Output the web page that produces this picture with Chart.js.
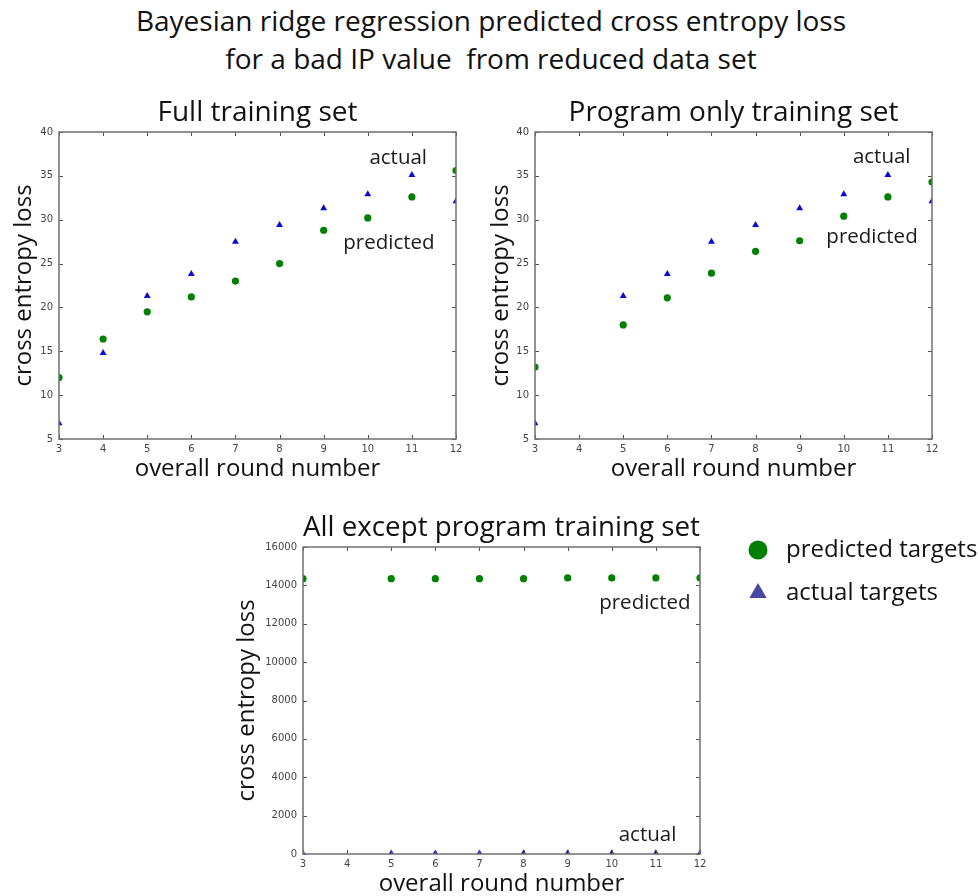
<!DOCTYPE html>
<html>
<head>
<meta charset="UTF-8">
<title>Bayesian ridge regression predicted cross entropy loss</title>
<script src="https://cdn.jsdelivr.net/npm/chart.js@4.4.1/dist/chart.umd.min.js"></script>
<style>
  body { margin: 0; background: #fff; overflow: hidden; width: 978px; height: 896px; position: relative; }
  #mainTitle { position: absolute; left: 2px; top: 1px; width: 978px; text-align: center;
               font-family: 'Open Sans'; font-size: 28px; line-height: 38px; color: #111; white-space: pre; }
  canvas { position: absolute; }
</style>
</head>
<body>
<div id="mainTitle">Bayesian ridge regression predicted cross entropy loss
for a bad IP value  from reduced data set</div>
<canvas id="fullChart" width="472" height="400" style="left:0px;top:88px"></canvas>
<canvas id="programChart" width="472" height="400" style="left:476px;top:88px"></canvas>
<canvas id="exceptChart" width="756" height="400" style="left:222px;top:503px"></canvas>
<script>
// overall round number on the x axis
const rounds = [3, 4, 5, 6, 7, 8, 9, 10, 11, 12];

// cross entropy loss, one value per round (null = no point)
const predFull      = [12.0, 16.4, 19.5, 21.2, 23.0, 25.0, 28.8, 30.2, 32.6, 35.6];
const actualFull    = [6.8, 14.8, 21.3, 23.8, 27.5, 29.4, 31.3, 32.9, 35.1, 32.1];
const predProgram   = [13.2, null, 18.0, 21.1, 23.9, 26.4, 27.6, 30.4, 32.6, 34.3];
const actualProgram = [6.8, null, 21.3, 23.8, 27.5, 29.4, 31.3, 32.9, 35.1, 32.1];
const predExcept    = [14350, null, 14350, 14350, 14350, 14350, 14390, 14390, 14390, 14390];
const actualExcept  = [6.8, null, 21.3, 23.8, 27.5, 29.4, 31.3, 32.9, 35.1, 32.1];

// tick labels
const roundTicks = [3, 4, 5, 6, 7, 8, 9, 10, 11, 12];
const lossTicks = [5, 10, 15, 20, 25, 30, 35, 40];
const bigLossTicks = [0, 2000, 4000, 6000, 8000, 10000, 12000, 14000, 16000];

// text notes inside the plots: [text, round, loss]
const notesFull    = [['actual', 10.69, 37.0], ['predicted', 10.48, 27.35]];
const notesProgram = [['actual', 10.86, 37.15], ['predicted', 10.64, 28.0]];
const notesExcept  = [['predicted', 10.75, 13080], ['actual', 10.81, 990]];

const green = '#007f00';
const blue = '#0a0ad0';
const textFont = 'Open Sans';

function toPoints(vals) {
  return rounds.map((r, i) => ({x: r, y: vals[i]})).filter(p => p.y !== null);
}

// matplotlib-like frame with inward ticks, plus the text notes
function framePlugin(notes) {
  return {
    id: 'frame',
    afterDatasetsDraw(chart) {
      const {ctx, chartArea: a, scales: {x, y}} = chart;
      ctx.save();
      ctx.strokeStyle = '#555';
      ctx.lineWidth = 1;
      ctx.beginPath();
      x.ticks.forEach(t => {
        const px = Math.round(x.getPixelForValue(t.value)) + 0.5;
        ctx.moveTo(px, a.bottom); ctx.lineTo(px, a.bottom - 4);
        ctx.moveTo(px, a.top); ctx.lineTo(px, a.top + 4);
      });
      y.ticks.forEach(t => {
        const py = Math.round(y.getPixelForValue(t.value)) + 0.5;
        ctx.moveTo(a.left, py); ctx.lineTo(a.left + 4, py);
        ctx.moveTo(a.right, py); ctx.lineTo(a.right - 4, py);
      });
      ctx.stroke();
      ctx.strokeStyle = '#707070';
      ctx.lineWidth = 1.5;
      ctx.strokeRect(a.left, a.top, a.width, a.height);
      ctx.font = '20.5px "' + textFont + '"';
      ctx.fillStyle = '#1a1a1a';
      ctx.textAlign = 'center';
      ctx.textBaseline = 'middle';
      notes.forEach(([txt, vx, vy]) => ctx.fillText(txt, x.getPixelForValue(vx), y.getPixelForValue(vy)));
      ctx.restore();
    }
  };
}

// legend drawn to the right of the bottom plot
const sideLegend = {
  id: 'sideLegend',
  afterDraw(chart) {
    const {ctx, chartArea: a} = chart;
    ctx.save();
    chart.data.datasets.forEach((ds, i) => {
      const cy = a.top + 3 + i * 43;
      ctx.fillStyle = ds.legendColor;
      Chart.helpers.drawPoint(ctx, {pointStyle: ds.pointStyle, radius: ds.legendRadius, rotation: 0, borderWidth: 0}, a.right + 58, cy);
      ctx.fillStyle = '#111';
      ctx.font = '24px "' + textFont + '"';
      ctx.textAlign = 'left';
      ctx.textBaseline = 'middle';
      ctx.fillText(ds.label, a.right + 86, cy);
    });
    ctx.restore();
  }
};

function lossChart(id, o) {
  const tickFont = {family: 'DejaVu Sans', size: 10};
  return new Chart(document.getElementById(id), {
    type: 'scatter',
    data: {
      datasets: [
        {label: 'predicted targets', data: toPoints(o.pred), pointStyle: 'circle', pointRadius: 3.6,
         backgroundColor: green, borderWidth: 0, clip: 0, legendColor: green, legendRadius: 9.5},
        {label: 'actual targets', data: toPoints(o.actual), pointStyle: 'triangle', pointRadius: 4,
         backgroundColor: blue, borderWidth: 0, clip: 0, legendColor: '#4848a0', legendRadius: 10}
      ]
    },
    options: {
      responsive: false,
      animation: false,
      events: [],
      layout: {padding: {left: 0, right: o.padRight, top: 0, bottom: 0}},
      plugins: {
        legend: {display: false},
        tooltip: {enabled: false},
        title: {display: true, text: o.title, fullSize: false, color: '#111',
                font: {family: textFont, size: 28, weight: 'normal'}, padding: {top: 8.2, bottom: 2.2}}
      },
      scales: {
        x: {
          type: 'linear', min: 3, max: 12,
          afterBuildTicks: s => { s.ticks = roundTicks.map(v => ({value: v})); },
          afterFit: s => { s.height = 49; },
          grid: {display: false, drawTicks: false},
          border: {display: false},
          ticks: {padding: 4, font: tickFont, color: '#444', maxRotation: 0, autoSkip: false},
          title: {display: true, text: 'overall round number', color: '#111',
                  font: {family: textFont, size: 24}, padding: {top: 0, bottom: 4}}
        },
        y: {
          type: 'linear', min: o.yTicks[0], max: o.yTicks[o.yTicks.length - 1],
          afterBuildTicks: s => { s.ticks = o.yTicks.map(v => ({value: v})); },
          afterFit: s => { s.width = o.yWidth; },
          grid: {display: false, drawTicks: false},
          border: {display: false},
          ticks: {padding: 6, font: tickFont, color: '#444', autoSkip: false, callback: v => String(v)},
          title: {display: true, text: 'cross entropy loss', color: '#111',
                  font: {family: textFont, size: 24}, padding: {top: o.yTitlePad, bottom: 0}}
        }
      }
    },
    plugins: [framePlugin(o.notes)].concat(o.extra || [])
  });
}

lossChart('fullChart', {title: 'Full training set', pred: predFull, actual: actualFull,
  yTicks: lossTicks, yWidth: 59, padRight: 16, yTitlePad: 9.6, notes: notesFull});
lossChart('programChart', {title: 'Program only training set', pred: predProgram, actual: actualProgram,
  yTicks: lossTicks, yWidth: 59, padRight: 16, yTitlePad: 11.1, notes: notesProgram});
lossChart('exceptChart', {title: 'All except program training set', pred: predExcept, actual: actualExcept,
  yTicks: bigLossTicks, yWidth: 81, padRight: 278, yTitlePad: 11.1, notes: notesExcept, extra: [sideLegend]});
</script>
</body>
</html>
